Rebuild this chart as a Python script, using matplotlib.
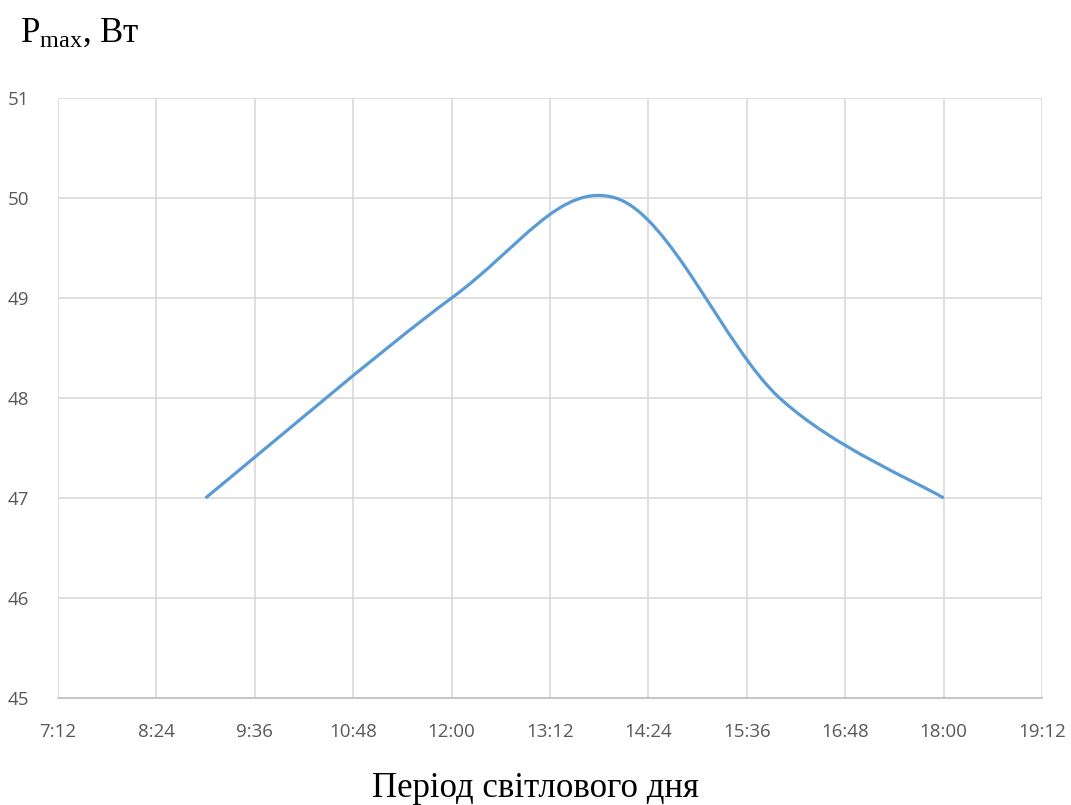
import matplotlib.pyplot as plt
from matplotlib import rcParams
from matplotlib.path import Path
from matplotlib.patches import PathPatch
from matplotlib.ticker import FuncFormatter

rcParams['font.family'] = 'Liberation Serif'
rcParams['mathtext.fontset'] = 'custom'
rcParams['mathtext.rm'] = 'Liberation Serif'

# Measurements over the light day
times = ["9:00", "12:00", "14:00", "16:00", "18:00"]
p_max = [47.0, 49.0, 50.0, 48.0, 47.0]

x_ticks = ["7:12", "8:24", "9:36", "10:48", "12:00", "13:12",
           "14:24", "15:36", "16:48", "18:00", "19:12"]
y_ticks = [45, 46, 47, 48, 49, 50, 51]


def to_hours(s):
    h, m = s.split(":")
    return int(h) + int(m) / 60


def hhmm(v, pos=None):
    total = int(round(v * 60))
    return f"{total // 60}:{total % 60:02d}"


x = [to_hours(t) for t in times]
xt = [to_hours(t) for t in x_ticks]

fig = plt.figure(figsize=(10.71, 8.05), dpi=100)
ax = fig.add_axes([58 / 1071, 107 / 805, 984 / 1071, 600 / 805])

# smoothed line: Catmull-Rom segments as cubic Bezier curves
pts = list(zip(x, p_max))
verts = [pts[0]]
codes = [Path.MOVETO]
n = len(pts)
for i in range(n - 1):
    p0 = pts[max(i - 1, 0)]
    p1 = pts[i]
    p2 = pts[i + 1]
    p3 = pts[min(i + 2, n - 1)]
    c1 = (p1[0] + (p2[0] - p0[0]) / 6, p1[1] + (p2[1] - p0[1]) / 6)
    c2 = (p2[0] - (p3[0] - p1[0]) / 6, p2[1] - (p3[1] - p1[1]) / 6)
    verts += [c1, c2, p2]
    codes += [Path.CURVE4] * 3
ax.add_patch(PathPatch(Path(verts, codes), facecolor='none',
                       edgecolor='#5b9bd5', lw=2.3, zorder=3))

ax.set_xlim(xt[0], xt[-1])
ax.set_ylim(45, 51)
ax.set_xticks(xt)
ax.set_yticks(y_ticks)
ax.xaxis.set_major_formatter(FuncFormatter(hhmm))
ax.grid(True, color='#d9d9d9', lw=1.2)
ax.set_axisbelow(True)
for side in ['top', 'right', 'left']:
    ax.spines[side].set_visible(False)
ax.spines['bottom'].set_color('#bfbfbf')
ax.spines['bottom'].set_linewidth(1.2)
ax.tick_params(length=0, labelcolor='#595959', labelsize=13.5)
ax.tick_params(axis='x', pad=18)
ax.tick_params(axis='y', pad=21)
for lab in ax.get_xticklabels() + ax.get_yticklabels():
    lab.set_family('Open Sans')

fig.text(20 / 1071, 1 - 33 / 805, r'$\mathrm{P_{max}}$, Вт', fontsize=25,
         va='center', ha='left')
fig.text(535 / 1071, 1 - 788 / 805, 'Період світлового дня', fontsize=25,
         va='center', ha='center')

fig.savefig('out.png', dpi=100)
